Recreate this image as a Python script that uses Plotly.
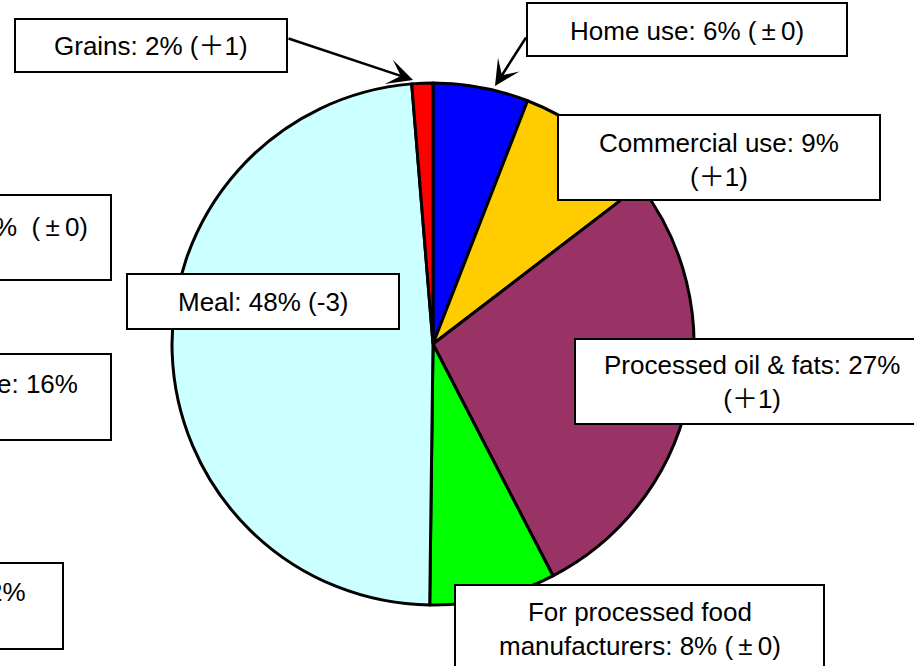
import plotly.graph_objects as go

# ---- data ----
categories = ["Home use", "Commercial use", "Processed oil & fats",
              "For processed food manufacturers", "Meal", "Grains"]
values = [5.9, 8.7, 27.8, 7.8, 48.5, 1.3]
colors = ["#0000FF", "#FFCC00", "#993366", "#00FF00", "#CCFFFF", "#FF0000"]
PM = "(\u2009±\u20090)"
label_texts = ["Home use: 6% " + PM,
               "Commercial use: 9%<br>(＋1)",
               "Processed oil & fats: 27%<br>(＋1)",
               "For processed food<br>manufacturers: 8% " + PM,
               "Meal: 48% (-3)",
               "Grains: 2% (＋1)"]
# partially visible labels of the cut-off left-hand boxes
left_texts = ["%\u00a0\u00a0" + PM, "e: 16%", "2%"]

W, H = 914, 666
FONT = "Liberation Sans, Arial, Noto Sans CJK JP, sans-serif"


def px(x):
    return x / W


def py(y):
    return 1 - y / H


cx, cy, r = 433, 344, 261

fig = go.Figure()
fig.add_trace(go.Pie(
    labels=categories, values=values, sort=False, direction="clockwise",
    rotation=0, textinfo="none", hoverinfo="none", showlegend=False,
    marker=dict(colors=colors, line=dict(color="black", width=3)),
    domain=dict(x=[px(cx - r), px(cx + r)], y=[py(cy + r), py(cy - r)]),
))

# label boxes (x0, y0, x1, y1) in pixels, and text centres
boxes = [
    (527, 3, 847, 56, 687, 31),
    (558, 115, 880, 200, 719, 160),
    (575, 339, 929, 424, 752, 382),
    (455, 585, 824, 670, 639.5, 629),
    (127, 274, 399, 329, 263, 302),
    (15, 19, 287, 72, 151, 46),
]
shapes = []
annotations = []
for (x0, y0, x1, y1, tx, ty), txt in zip(boxes, label_texts):
    shapes.append(dict(type="rect", xref="paper", yref="paper",
                       x0=px(x0), x1=px(x1), y0=py(y1), y1=py(y0),
                       fillcolor="white", line=dict(color="black", width=2),
                       layer="above"))
    annotations.append(dict(xref="paper", yref="paper", x=px(tx), y=py(ty),
                            xanchor="center", yanchor="middle", showarrow=False,
                            text=txt, font=dict(family=FONT, size=26, color="black")))

left_boxes = [
    (-300, 195, 111, 280, 90, 227),
    (-300, 354, 111, 440, 80, 384),
    (-300, 563, 63, 649, 28, 592),
]
for (x0, y0, x1, y1, tx, ty), txt in zip(left_boxes, left_texts):
    shapes.append(dict(type="rect", xref="paper", yref="paper",
                       x0=px(x0), x1=px(x1), y0=py(y1), y1=py(y0),
                       fillcolor="white", line=dict(color="black", width=2),
                       layer="above"))
    annotations.append(dict(xref="paper", yref="paper", x=px(tx), y=py(ty),
                            xanchor="right", yanchor="middle", showarrow=False,
                            text=txt, font=dict(family=FONT, size=26, color="black")))

# arrows: tip (x, y), tail offset (ax, ay) in pixels
arrows = [(413, 80, -126, -42), (495, 86, 32, -50)]
for x, y, ax, ay in arrows:
    annotations.append(dict(xref="paper", yref="paper", x=px(x), y=py(y),
                            ax=ax, ay=ay, text="", showarrow=True,
                            arrowhead=3, arrowsize=1.7, arrowwidth=2.5,
                            arrowcolor="black"))

fig.update_layout(width=W, height=H, margin=dict(l=0, r=0, t=0, b=0),
                  paper_bgcolor="white", plot_bgcolor="white",
                  shapes=shapes, annotations=annotations)
fig.write_html("out.html")
